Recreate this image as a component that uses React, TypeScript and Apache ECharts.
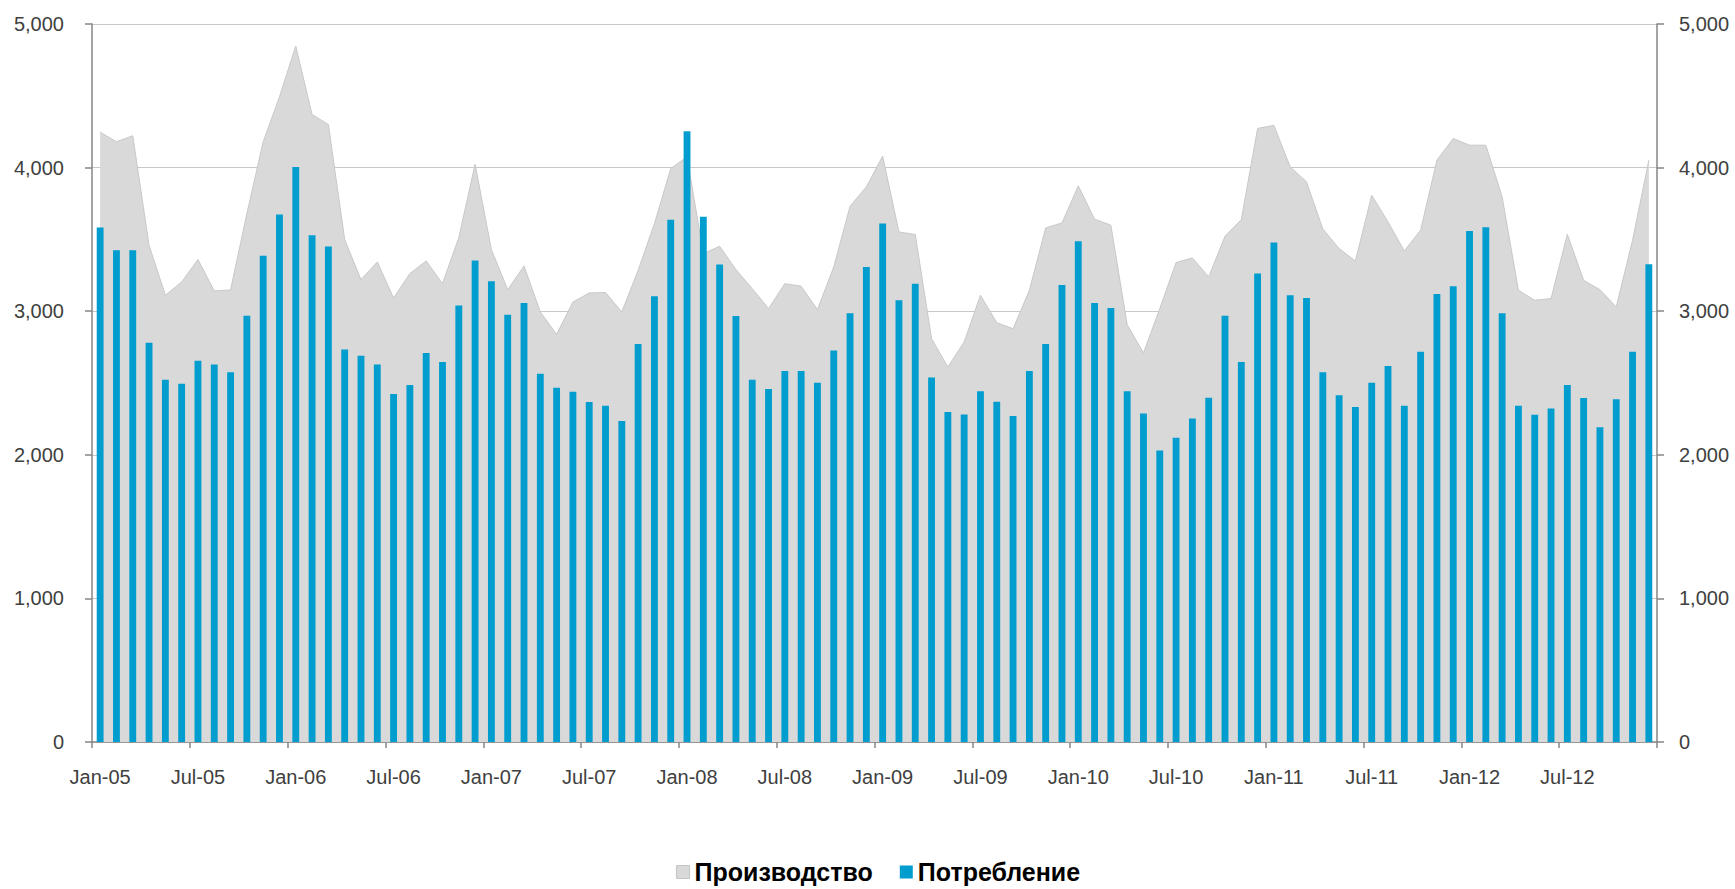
import React, { useEffect, useRef } from "react";
import * as echarts from "echarts";

const monthNames = ["Jan", "Feb", "Mar", "Apr", "May", "Jun", "Jul", "Aug", "Sep", "Oct", "Nov", "Dec"];
const years = ["05", "06", "07", "08", "09", "10", "11", "12"];
const categories: string[] = [];
years.forEach((y) => monthNames.forEach((m) => categories.push(`${m}-${y}`)));

const seriesNames = ["Производство", "Потребление"];

// Производство (area)
const production = [
  4247, 4180, 4222, 3459, 3111, 3204, 3360, 3141, 3148, 3680, 4180, 4493,
  4847, 4370, 4300, 3499, 3220, 3343, 3092, 3262, 3350, 3192, 3513, 4024,
  3429, 3150, 3315, 2995, 2839, 3064, 3127, 3130, 2995, 3285, 3610, 3994,
  4075, 3401, 3452, 3290, 3157, 3018, 3192, 3174, 3011, 3308, 3731, 3866,
  4080, 3552, 3534, 2809, 2611, 2786, 3111, 2920, 2878, 3146, 3580, 3615,
  3873, 3641, 3599, 2906, 2709, 3018, 3339, 3371, 3239, 3522, 3638, 4273,
  4294, 4005, 3901, 3573, 3436, 3350, 3808, 3622, 3420, 3564, 4052, 4203,
  4156, 4156, 3796, 3146, 3076, 3088, 3536, 3215, 3150, 3030, 3494, 4052,
];

// Потребление (bars)
const consumption = [
  3583, 3425, 3425, 2781, 2523, 2495, 2655, 2628, 2574, 2969, 3387, 3673,
  4005, 3529, 3450, 2734, 2690, 2628, 2423, 2486, 2709, 2646, 3039, 3353,
  3208, 2976, 3057, 2565, 2467, 2439, 2367, 2342, 2235, 2772, 3104, 3636,
  4254, 3657, 3325, 2967, 2523, 2458, 2583, 2583, 2502, 2727, 2985, 3308,
  3610, 3076, 3192, 2539, 2298, 2281, 2442, 2370, 2270, 2583, 2772, 3183,
  3487, 3057, 3022, 2442, 2288, 2030, 2119, 2253, 2397, 2969, 2646, 3262,
  3478, 3111, 3092, 2574, 2414, 2332, 2502, 2618, 2342, 2718, 3120, 3174,
  3559, 3585, 2985, 2342, 2279, 2323, 2486, 2395, 2191, 2386, 2718, 3327,
];

const yTicks = { min: 0, max: 5000, interval: 1000 };

const FONT = "'Liberation Sans', Arial, sans-serif";
const LABEL_COLOR = "#404040";
const AXIS_COLOR = "#868686";

const fmt = (v: number) => v.toLocaleString("en-US");

export default function App() {
  const ref = useRef<HTMLDivElement>(null);

  useEffect(() => {
    if (!ref.current) return;
    const chart = echarts.init(ref.current, null, { renderer: "svg" });
    const yAxisBase = {
      type: "value",
      min: yTicks.min,
      max: yTicks.max,
      interval: yTicks.interval,
      axisLine: { show: true, lineStyle: { color: AXIS_COLOR, width: 1.5 } },
      axisTick: { show: true, length: 7, lineStyle: { color: AXIS_COLOR, width: 1.5 } },
    };
    chart.setOption({
      animation: false,
      backgroundColor: "#ffffff",
      grid: { left: 92, right: 78, top: 24, bottom: 147, containLabel: false },
      legend: {
        data: [
          { name: seriesNames[0], icon: "rect", itemStyle: { color: "#D9D9D9", borderColor: "#C4C4C4", borderWidth: 1 } },
          { name: seriesNames[1], icon: "rect" },
        ],
        left: 676,
        top: 858,
        padding: 0,
        itemWidth: 13,
        itemHeight: 13,
        itemGap: 27,
        textStyle: { fontFamily: FONT, fontWeight: "bold", fontSize: 25, color: "#000000", lineHeight: 28 },
      },
      xAxis: {
        type: "category",
        data: categories,
        boundaryGap: true,
        axisLine: { show: true, lineStyle: { color: AXIS_COLOR, width: 1.5 } },
        axisTick: { show: true, interval: 5, length: 6, lineStyle: { color: AXIS_COLOR, width: 1.5 } },
        axisLabel: { interval: 5, margin: 25, fontFamily: FONT, fontSize: 20, color: LABEL_COLOR },
        splitLine: { show: false },
      },
      yAxis: [
        {
          ...yAxisBase,
          position: "left",
          axisLabel: { margin: 28, fontFamily: FONT, fontSize: 20, color: LABEL_COLOR, formatter: fmt },
          splitLine: { show: true, lineStyle: { color: "#C8C8C8", width: 1.2 } },
        },
        {
          ...yAxisBase,
          position: "right",
          axisLabel: { margin: 22, fontFamily: FONT, fontSize: 20, color: LABEL_COLOR, formatter: fmt },
          splitLine: { show: false },
        },
      ],
      series: [
        {
          name: seriesNames[0],
          type: "line",
          data: production,
          color: "#D9D9D9",
          symbol: "none",
          lineStyle: { color: "#C8C8C8", width: 1 },
          areaStyle: { color: "#D9D9D9", opacity: 1 },
          z: 1,
        },
        {
          name: seriesNames[1],
          type: "bar",
          data: consumption,
          color: "#009DCE",
          barWidth: "42%",
          z: 2,
        },
      ],
    });
    return () => chart.dispose();
  }, []);

  return (
    <div
      ref={ref}
      style={{ position: "fixed", left: 0, top: 0, width: 1735, height: 889, background: "#fff" }}
    />
  );
}
